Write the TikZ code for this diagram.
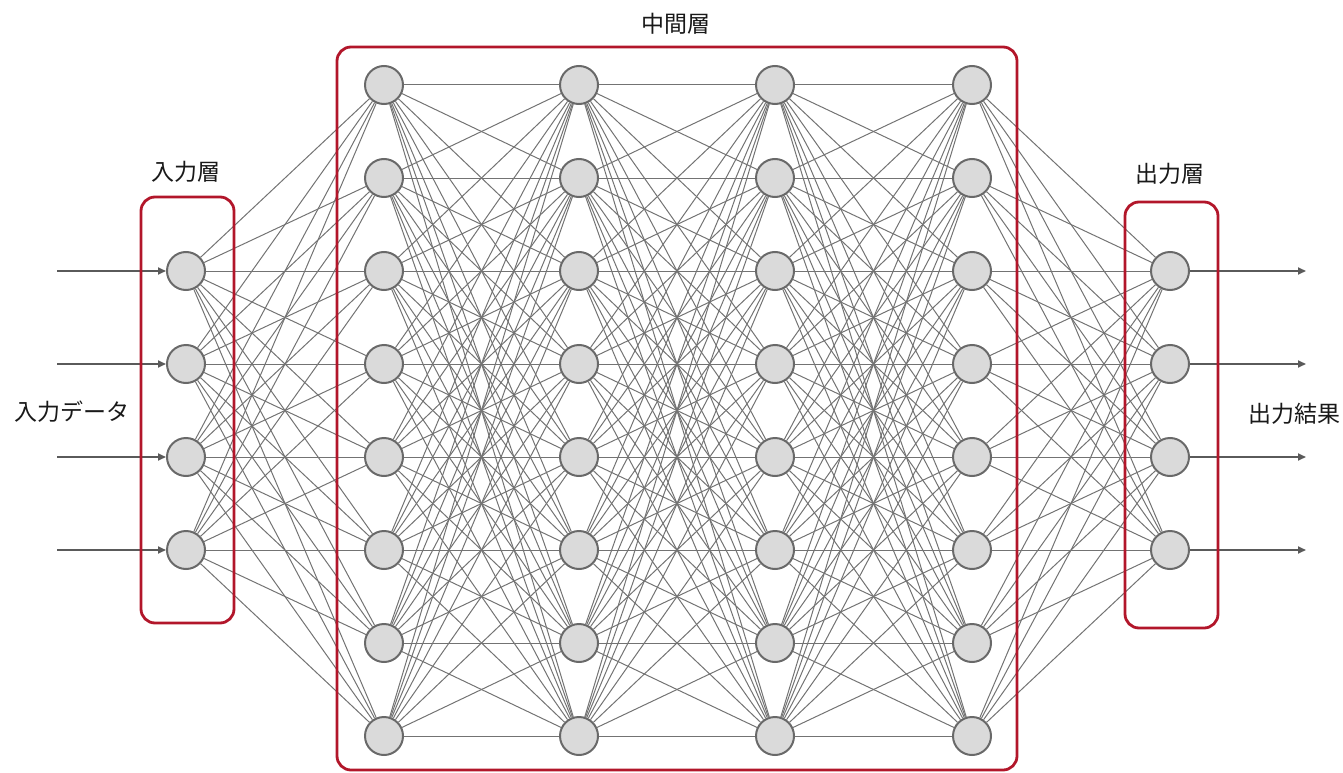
\documentclass[tikz,border=0pt]{standalone}
\usepackage{fontspec}
\setmainfont{Noto Sans CJK JP}
\usetikzlibrary{arrows.meta}
\definecolor{boxred}{RGB}{178,22,42}
\definecolor{nodefill}{RGB}{218,218,218}
\definecolor{nodeline}{RGB}{105,105,105}
\definecolor{edgegray}{RGB}{115,115,115}
\definecolor{arrowgray}{RGB}{90,90,90}
\begin{document}
\begin{tikzpicture}[x=1pt,y=-1pt,
  neuron/.style={circle,draw=nodeline,fill=nodefill,line width=2pt,minimum size=38pt,inner sep=0pt},
  edge/.style={draw=edgegray,line width=1pt},
  io/.style={draw=arrowgray,line width=1.7pt,-{Triangle[length=8pt,width=7pt]}},
  layerbox/.style={draw=boxred,line width=2.8pt,rounded corners=14pt},
  lbl/.style={font=\fontsize{23}{26}\selectfont,text=black!90,inner sep=0pt}]
\useasboundingbox (0,0) rectangle (1343,773);
% nodes
\foreach \i [evaluate=\i as \yy using 271+93*(\i-1)] in {1,...,4}{
  \node[neuron] (in\i) at (186,\yy) {};
  \node[neuron] (out\i) at (1170,\yy) {};
}
\foreach \l/\xx in {1/384,2/579,3/775,4/972}{
  \foreach \i [evaluate=\i as \yy using 85+93*(\i-1)] in {1,...,8}{
    \node[neuron] (h\l-\i) at (\xx,\yy) {};
  }
}
% edges
\foreach \i in {1,...,4}{\foreach \j in {1,...,8}{
  \draw[edge] (in\i) -- (h1-\j);
  \draw[edge] (h4-\j) -- (out\i);
}}
\foreach \l [evaluate=\l as \m using int(\l+1)] in {1,2,3}{
  \foreach \i in {1,...,8}{\foreach \j in {1,...,8}{
    \draw[edge] (h\l-\i) -- (h\m-\j);
  }}
}
% input / output arrows
\foreach \i [evaluate=\i as \yy using 271+93*(\i-1)] in {1,...,4}{
  \coordinate (s\i) at (57,\yy);
  \coordinate (e\i) at (1306,\yy);
  \draw[io] (s\i) -- (in\i);
  \draw[io] (out\i) -- (e\i);
}
% boxes
\draw[layerbox] (141,197) rectangle (234,623);
\draw[layerbox] (337,47) rectangle (1017,770);
\draw[layerbox] (1125,202) rectangle (1218,628);
% labels
\node[lbl] (tin) at (186,172) {入力層};
\node[lbl] (tmid) at (676,24) {中間層};
\node[lbl] (tout) at (1170,174) {出力層};
\node[lbl] (tdata) at (72,412) {入力データ};
\node[lbl] (tres) at (1294,414) {出力結果};
\end{tikzpicture}
\end{document}
